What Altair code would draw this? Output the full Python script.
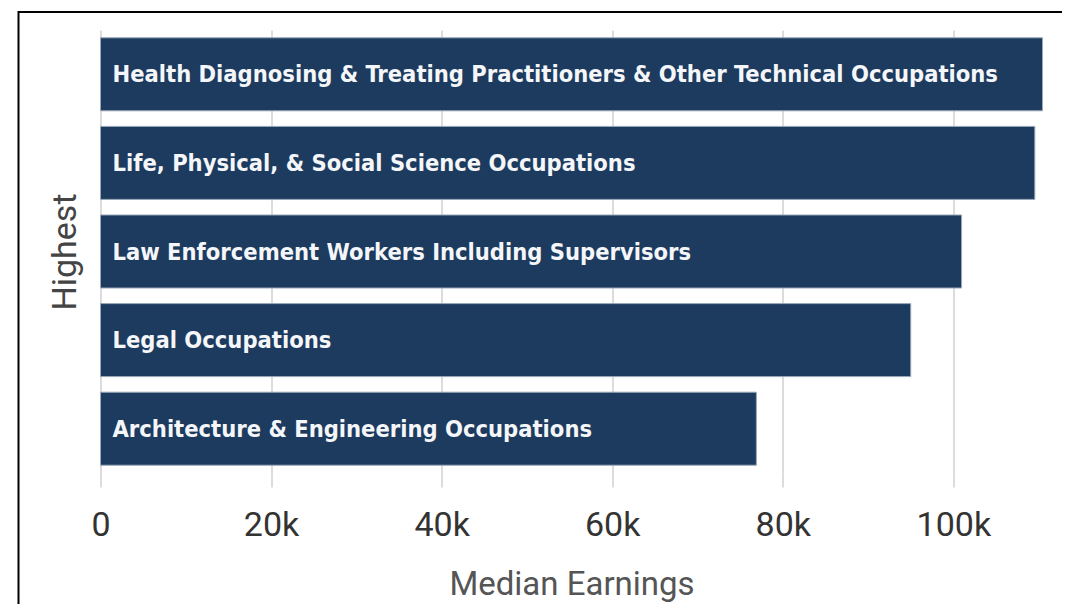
import altair as alt
import pandas as pd

occupations = [
    "Health Diagnosing & Treating Practitioners & Other Technical Occupations",
    "Life, Physical, & Social Science Occupations",
    "Law Enforcement Workers Including Supervisors",
    "Legal Occupations",
    "Architecture & Engineering Occupations",
]
median_earnings = [110450, 109550, 100960, 95000, 76900]

df = pd.DataFrame({"occupation": occupations, "earnings": median_earnings})

BAR = "#1c3b5e"
AXIS_FONT = "Roboto"

x_enc = alt.X(
    "earnings:Q",
    title="Median Earnings",
    scale=alt.Scale(domain=[0, max(median_earnings)], nice=False, zero=True),
    axis=alt.Axis(
        values=[0, 20000, 40000, 60000, 80000, 100000],
        labelExpr="datum.value == 0 ? '0' : (datum.value / 1000) + 'k'",
        labelFlush=False,
        grid=True,
        gridColor="#dcdcdc",
        gridWidth=2,
        ticks=True,
        tickColor="#dcdcdc",
        tickWidth=2,
        tickSize=14,
        domain=False,
        labelFont=AXIS_FONT,
        labelFontSize=34,
        labelColor="#333333",
        labelPadding=21,
        titleFont=AXIS_FONT,
        titleFontSize=33,
        titleFontWeight="normal",
        titleColor="#555555",
        titlePadding=26,
    ),
)
y_enc = alt.Y(
    "occupation:N",
    sort=occupations,
    title="Highest",
    scale=alt.Scale(paddingInner=0.176, paddingOuter=0.088),
    axis=alt.Axis(
        labels=False,
        ticks=False,
        domain=False,
        grid=False,
        titleFont=AXIS_FONT,
        titleFontSize=34,
        titleFontWeight="normal",
        titleColor="#444444",
        titlePadding=18,
    ),
)

bars = alt.Chart(df).mark_bar(color=BAR, stroke="#9aa8b8", strokeWidth=1).encode(
    x=x_enc, y=y_enc
)

labels = alt.Chart(df).mark_text(
    align="left",
    baseline="middle",
    dx=12,
    dy=1,
    color="#f4f6f9",
    font="Liberation Sans Narrow, DejaVu Sans Condensed, sans-serif",
    fontWeight="bold",
    fontSize=23.5,
).encode(
    x=alt.value(0),
    y=alt.Y("occupation:N", sort=occupations),
    text="occupation:N",
)

frame = alt.Chart(alt.Data(values=[{}])).mark_rect(
    fill=None, stroke="#000000", strokeWidth=2
).encode(
    x=alt.value(-82), x2=alt.value(1000), y=alt.value(-18), y2=alt.value(700)
)

chart = (
    alt.layer(bars, labels, frame)
    .properties(
        width=942,
        height=443,
        padding={"left": 92.5, "top": 22, "right": 19.5, "bottom": 131},
        autosize=alt.AutoSizeParams(type="none"),
        background="#ffffff",
    )
    .configure_view(stroke=None)
)

chart.save("out.html", embed_options={"renderer": "svg", "actions": False})
